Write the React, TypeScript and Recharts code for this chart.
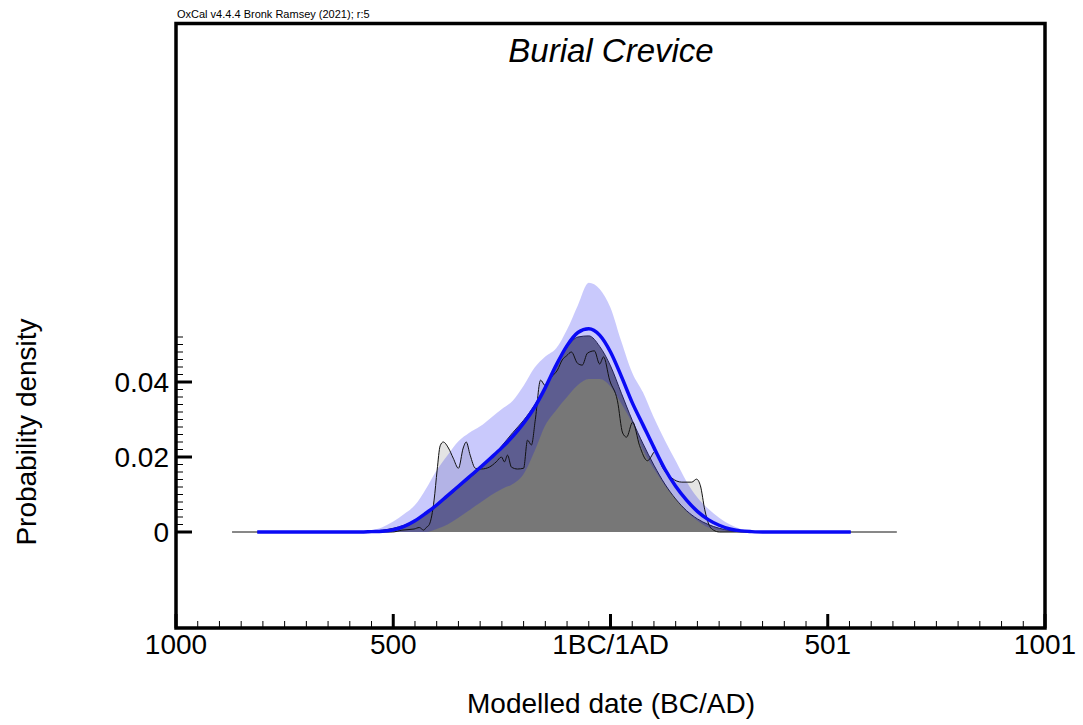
import React from 'react';
import { ComposedChart, Area, Line, XAxis, YAxis, ReferenceArea } from 'recharts';

// years (negative = BC) for the smooth KDE curves
const years = [
  -813, -600, -575, -550, -525, -500, -475, -450, -425, -400, -375, -350, -325, -300,
  -275, -250, -225, -200, -175, -150, -125, -100, -75, -50, -25, 0, 25, 50, 75, 100,
  125, 150, 175, 200, 225, 250, 275, 300, 325, 350, 375, 553,
];

// KDE estimate (blue line)
const kde = [
  0, 0, 0, 0.0001, 0.0002, 0.0006, 0.0015, 0.003, 0.005, 0.0072, 0.0097, 0.0122, 0.0147, 0.0172,
  0.0198, 0.0225, 0.0255, 0.029, 0.0332, 0.0385, 0.0445, 0.0497, 0.0532, 0.0542, 0.0525, 0.048, 0.0415, 0.0345, 0.0285, 0.0225,
  0.0168, 0.0122, 0.0085, 0.0055, 0.0033, 0.0018, 0.0008, 0.0003, 0.0001, 0, 0, 0,
];

// +/- 1 sigma band of the KDE
const bandHigh = [
  0, 0, 0, 0.0005, 0.0013, 0.0028, 0.0048, 0.0072, 0.0115, 0.0165, 0.0205, 0.0242, 0.0265, 0.0282,
  0.0305, 0.0328, 0.035, 0.039, 0.0438, 0.0468, 0.049, 0.054, 0.0605, 0.0665, 0.0648, 0.0598, 0.0508, 0.0425, 0.0372, 0.0305,
  0.0245, 0.019, 0.0135, 0.0092, 0.0062, 0.0038, 0.002, 0.0008, 0.0003, 0, 0, 0,
];
const bandLow = [
  0, 0, 0, 0, 0, 0, 0, 0, 0, 0.0008, 0.002, 0.0038, 0.0058, 0.0078,
  0.0098, 0.0115, 0.0128, 0.0155, 0.0215, 0.0285, 0.0325, 0.036, 0.0392, 0.0408, 0.0408, 0.0388, 0.0342, 0.029, 0.0218, 0.0168,
  0.0125, 0.0088, 0.0055, 0.003, 0.0012, 0.0004, 0, 0, 0, 0, 0, 0,
];

// modelled distribution (dark grey)
const modelled = [
  0, 0, 0, 0.0002, 0.0005, 0.001, 0.0018, 0.003, 0.0048, 0.007, 0.0093, 0.0118, 0.0143, 0.0168,
  0.0197, 0.023, 0.0265, 0.0298, 0.0338, 0.0388, 0.0445, 0.0493, 0.052, 0.0523, 0.0495, 0.0443, 0.037, 0.0298, 0.0235, 0.0178,
  0.0128, 0.0088, 0.0057, 0.0035, 0.002, 0.001, 0.0004, 0.0001, 0, 0, 0, 0,
];

// unmodelled sample histogram (light grey, black outline)
const histYears = [
  -871, -502, -480, -452, -440, -430, -424, -417, -406, -399, -392, -385, -373, -362, -350,
  -339, -332, -323, -311, -297, -279, -263, -251, -244, -237, -228, -214, -200, -191, -182,
  -173, -161, -150, -136, -122, -111, -101, -90, -76, -65, -53, -37, -25, -16, -2,
  16, 28, 37, 51, 67, 85, 104, 118, 141, 164, 187, 198, 207, 217, 226, 237, 251, 659,
];
const histValues = [
  0, 0, 0.0005, 0.0008, 0.0012, 0.0005, 0.0012, 0.002, 0.0085, 0.0165, 0.023, 0.024, 0.0224, 0.0197, 0.017,
  0.0224, 0.024, 0.0205, 0.017, 0.0168, 0.0173, 0.0187, 0.02, 0.0187, 0.0205, 0.0173, 0.0168, 0.017, 0.0245, 0.0232,
  0.03, 0.0405, 0.039, 0.0413, 0.0432, 0.0459, 0.047, 0.048, 0.045, 0.0445, 0.0477, 0.0483, 0.0448, 0.0467, 0.0405,
  0.035, 0.0264, 0.0253, 0.0293, 0.023, 0.019, 0.0216, 0.0176, 0.0144, 0.0133, 0.0133, 0.0141, 0.0123, 0.0059, 0.0021, 0.0005, 0, 0,
];

const X_MAJOR = [-1000, -500, 0, 500, 1000];
const X_LABELS = ['1000', '500', '1BC/1AD', '501', '1001'];
const Y_MAJOR = [0, 0.02, 0.04];
const Y_LABELS = ['0', '0.02', '0.04'];

const X_DOMAIN: [number, number] = [-1000, 1000];
const Y_DOMAIN: [number, number] = [-0.0256, 0.1356];

const FONT = 'Arial, "Liberation Sans", sans-serif';

const xTicks: number[] = [];
for (let v = -1000; v <= 1000; v += 50) xTicks.push(v);
const yTicks: number[] = [];
for (let i = 0; i <= 26; i++) yTicks.push((i * 2) / 1000);

const rows = years.map((year, i) => ({
  year,
  kde: kde[i],
  band: [bandLow[i], bandHigh[i]],
  modelled: modelled[i],
}));
const histRows = histYears.map((year, i) => ({ year, hist: histValues[i] }));

const XTick = (props: any) => {
  const { x, y, payload } = props;
  const idx = X_MAJOR.indexOf(payload.value);
  const major = idx >= 0;
  return (
    <g>
      <line x1={x} x2={x} y1={y} y2={y - (major ? 14 : 7)} stroke="#000" strokeWidth={major ? 3 : 1} />
      {major && (
        <text x={x} y={y + 26} textAnchor="middle" fontSize={28} fontFamily={FONT} fill="#000">
          {X_LABELS[idx]}
        </text>
      )}
    </g>
  );
};

const YTick = (props: any) => {
  const { x, y, payload } = props;
  const idx = Y_MAJOR.findIndex((v) => Math.abs(v - payload.value) < 1e-9);
  const major = idx >= 0;
  return (
    <g>
      <line x1={x} x2={x + (major ? 16 : 7)} y1={y} y2={y} stroke="#000" strokeWidth={major ? 3 : 1} />
      {major && (
        <text x={x - 7} y={y + 10} textAnchor="end" fontSize={28} fontFamily={FONT} fill="#000">
          {Y_LABELS[idx]}
        </text>
      )}
    </g>
  );
};

export default function App() {
  return (
    <div style={{ position: 'absolute', left: 0, top: 0, width: 1083, height: 725, background: '#fff' }}>
      <ComposedChart width={1083} height={725} data={rows} margin={{ top: 23.5, right: 38, bottom: 0, left: 0 }}>
        <XAxis
          dataKey="year"
          type="number"
          domain={X_DOMAIN}
          allowDataOverflow
          ticks={xTicks}
          interval={0}
          axisLine={false}
          tickLine={false}
          tickSize={0}
          tickMargin={0}
          tick={<XTick />}
          height={97}
        />
        <YAxis
          type="number"
          domain={Y_DOMAIN}
          allowDataOverflow
          ticks={yTicks}
          interval={0}
          axisLine={false}
          tickLine={false}
          tickSize={0}
          tickMargin={0}
          tick={<YTick />}
          width={176}
        />
        <Area
          data={histRows}
          dataKey="hist"
          type="monotone"
          fill="#e4e4e4"
          fillOpacity={1}
          stroke="none"
          isAnimationActive={false}
        />
        <Area
          dataKey="modelled"
          type="monotone"
          fill="#777777"
          fillOpacity={1}
          stroke="#2a2a2a"
          strokeWidth={1}
          isAnimationActive={false}
        />
        <Area
          dataKey="band"
          type="monotone"
          fill="#0000f0"
          fillOpacity={0.21}
          stroke="none"
          isAnimationActive={false}
        />
        <Area
          data={histRows}
          dataKey="hist"
          type="monotone"
          fill="none"
          stroke="#111"
          strokeWidth={1}
          isAnimationActive={false}
        />
        <Line
          dataKey="kde"
          type="monotone"
          stroke="#0a0af5"
          strokeWidth={3.5}
          dot={false}
          isAnimationActive={false}
        />
        <ReferenceArea
          x1={X_DOMAIN[0]}
          x2={X_DOMAIN[1]}
          y1={Y_DOMAIN[0]}
          y2={Y_DOMAIN[1]}
          fill="none"
          stroke="#000"
          strokeWidth={3.5}
          ifOverflow="visible"
        />
        <text x={177} y={18} fontSize={11} fontFamily={FONT} fill="#000">
          OxCal v4.4.4 Bronk Ramsey (2021); r:5
        </text>
        <text x={611} y={62} textAnchor="middle" fontSize={33} fontStyle="italic" fontFamily={FONT} fill="#000">
          Burial Crevice
        </text>
        <text x={611} y={713} textAnchor="middle" fontSize={28} fontFamily={FONT} fill="#000">
          Modelled date (BC/AD)
        </text>
        <text
          x={-432}
          y={36}
          transform="rotate(-90)"
          textAnchor="middle"
          fontSize={28}
          fontFamily={FONT}
          fill="#000"
        >
          Probability density
        </text>
      </ComposedChart>
    </div>
  );
}
